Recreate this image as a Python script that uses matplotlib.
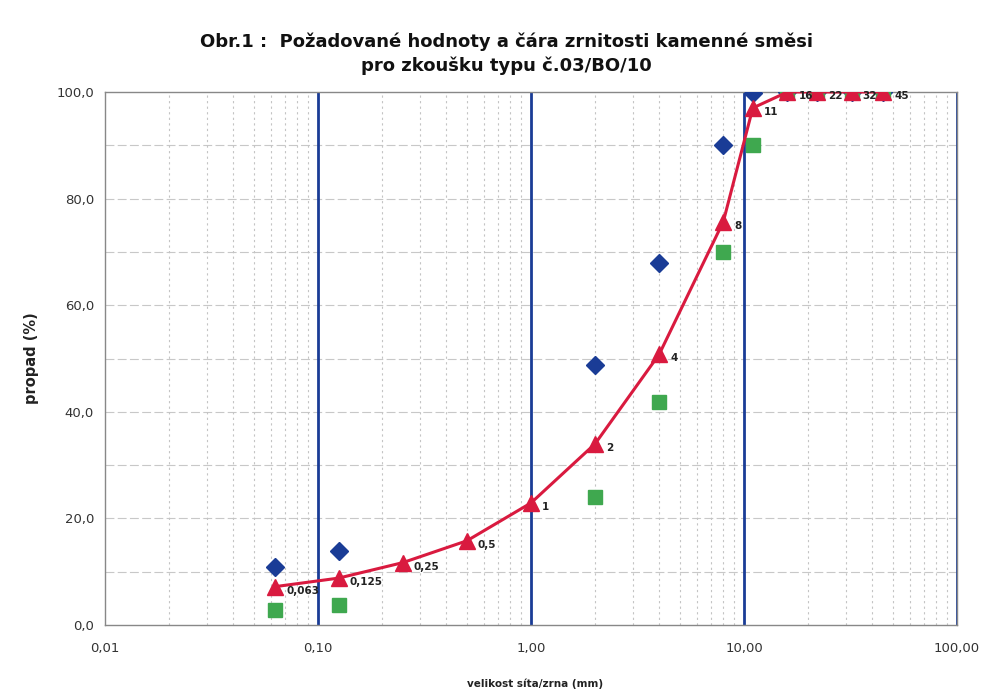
import matplotlib.pyplot as plt
from matplotlib.ticker import FixedLocator, NullFormatter

# sieve sizes (mm) and passing (%)
sizes = [0.063, 0.125, 0.25, 0.5, 1, 2, 4, 8, 11, 16, 22, 32, 45]
size_labels = ["0,063", "0,125", "0,25", "0,5", "1", "2", "4", "8", "11", "16", "22", "32", "45"]
curve = [7.2, 8.8, 11.7, 15.8, 22.9, 34.0, 50.8, 75.7, 97.0, 100, 100, 100, 100]

upper_sizes = [0.063, 0.125, 2, 4, 8, 11, 16, 22, 32, 45]
upper = [10.9, 13.8, 48.8, 67.9, 90.0, 99.9, 100, 100, 100, 100]

lower_sizes = [0.063, 0.125, 2, 4, 8, 11, 16, 22, 32, 45]
lower = [2.9, 3.8, 24.0, 41.8, 70.0, 90.0, 100, 100, 100, 100]

x_ticks = [0.01, 0.1, 1, 10, 100]
x_ticklabels = ["0,01", "0,10", "1,00", "10,00", "100,00"]
y_ticks = [0, 20, 40, 60, 80, 100]
y_ticklabels = ["0,0", "20,0", "40,0", "60,0", "80,0", "100,0"]

RED = "#d91a3f"
BLUE = "#1a3c96"
GREEN = "#3fa84f"

fig = plt.figure(figsize=(10.07, 6.93), dpi=100)
ax = fig.add_axes([105 / 1007, 1 - 625 / 693, 852 / 1007, 533 / 693])

ax.set_xscale("log")
ax.set_xlim(0.01, 100)
ax.set_ylim(0, 100)

# grid
minor = [m * 10.0 ** e for e in range(-2, 2) for m in range(2, 10)]
ax.xaxis.set_minor_locator(FixedLocator(minor))
ax.xaxis.set_minor_formatter(NullFormatter())
ax.grid(which="minor", axis="x", color="#c4c4c4", linestyle=(0, (2, 3)), linewidth=0.8)
for yv in range(10, 100, 10):
    ax.axhline(yv, color="#c8c8c8", linestyle=(0, (8, 3)), linewidth=0.8, zorder=1)
for xv in [0.1, 1, 10, 100]:
    ax.axvline(xv, color=BLUE, linewidth=2, zorder=2)

ax.set_xticks(x_ticks)
ax.set_xticklabels(x_ticklabels)
ax.set_yticks(y_ticks)
ax.set_yticklabels(y_ticklabels)
ax.tick_params(axis="both", which="both", length=0, labelsize=9.5, colors="#333333", pad=8)
ax.tick_params(axis="x", pad=12)
for s in ax.spines.values():
    s.set_color("#888888")
    s.set_linewidth(1)

ax.plot(upper_sizes, upper, linestyle="none", marker="D", markersize=9, color=BLUE, zorder=4)
ax.plot(lower_sizes, lower, linestyle="none", marker="s", markersize=10, color=GREEN, zorder=4)
ax.plot(sizes, curve, color=RED, linewidth=2.2, marker="^", markersize=11, zorder=5)

for xs, ys, lab in zip(sizes, curve, size_labels):
    ax.annotate(lab, (xs, ys), xytext=(8, -3), textcoords="offset points",
                fontsize=7.5, fontweight="bold", color="#222222", va="center", zorder=6)

fig.text(0.503, 1 - 54 / 693, "Obr.1 :  Požadované hodnoty a čára zrnitosti kamenné směsi\npro zkoušku typu č.03/BO/10",
         ha="center", va="center", fontsize=13, fontweight="bold", color="#111111", linespacing=1.35)
ax.set_ylabel("propad (%)", fontsize=10.5, fontweight="bold", color="#222222", labelpad=12)
fig.text(535 / 1007, 1 - 684 / 693, "velikost síta/zrna (mm)", ha="center", va="center",
         fontsize=7.5, fontweight="bold", color="#222222")

fig.savefig("out.png", dpi=100)
